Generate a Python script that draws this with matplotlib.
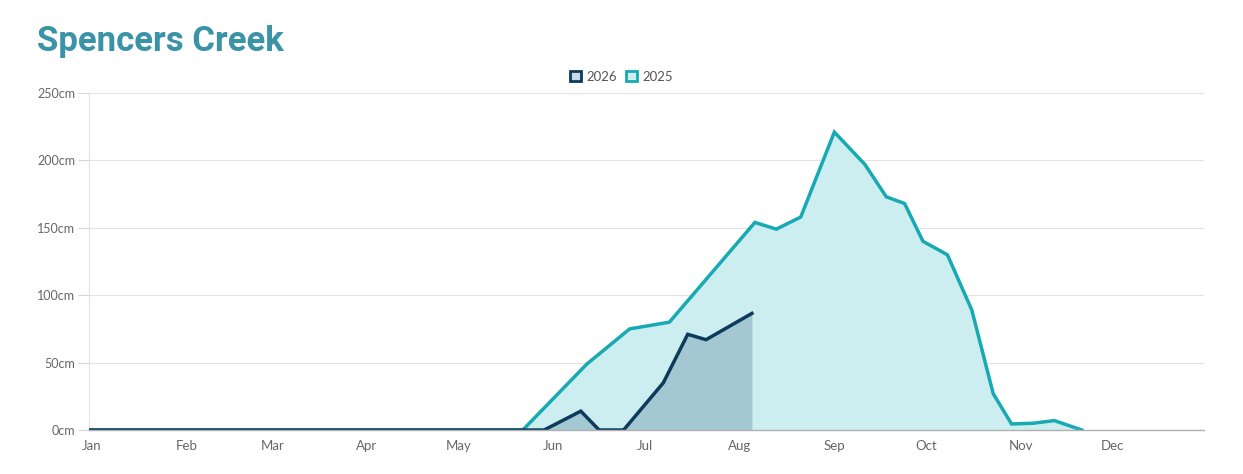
import matplotlib.pyplot as plt
from matplotlib.patches import Patch

# day of year vs snow depth (cm)
days_2025 = [0, 142, 163, 177, 190, 218, 225, 233, 244, 254, 261, 267, 273, 281, 289, 296, 302, 309, 316, 325]
depth_2025 = [0, 0, 49, 75, 80, 154, 149, 158, 221, 197, 173, 168, 140, 130, 89, 27, 4.5, 5, 7, 0]

days_2026 = [0, 149, 161, 167, 175, 188, 196, 202, 217]
depth_2026 = [0, 0, 14, 0, 0, 35, 71, 67, 86.5]

months = ['Jan', 'Feb', 'Mar', 'Apr', 'May', 'Jun', 'Jul', 'Aug', 'Sep', 'Oct', 'Nov', 'Dec']
month_starts = [0, 31, 59, 90, 120, 151, 181, 212, 243, 273, 304, 334]
yticks = [0, 50, 100, 150, 200, 250]

c25 = '#17aab2'
c25_fill = '#cdeef0'
c26 = '#0d3b5c'
c26_fill = '#a3c8d2'

plt.rcParams['font.family'] = ['Lato', 'DejaVu Sans']

fig = plt.figure(figsize=(12.43, 4.74), dpi=100)
ax = fig.add_axes([0.0716, 0.0928, 0.8970, 0.7110])

ax.fill_between(days_2025, depth_2025, color=c25_fill, lw=0, zorder=1)
ax.fill_between(days_2026, depth_2026, color=c26_fill, lw=0, zorder=2)
ax.plot(days_2025, depth_2025, color=c25, lw=2.5, zorder=3, solid_joinstyle='miter')
ax.plot(days_2026, depth_2026, color=c26, lw=2.5, zorder=4, solid_joinstyle='miter')

ax.set_xlim(0, 365)
ax.set_ylim(0, 250)
ax.set_xticks([d + 1 for d in month_starts])
ax.set_xticklabels(months)
ax.set_yticks(yticks)
ax.set_yticklabels([f'{v}cm' for v in yticks])
ax.tick_params(axis='x', length=0, pad=7, labelsize=9.5, labelcolor='#666666')
ax.tick_params(axis='y', length=8, width=0.8, color='#d5d5d5', pad=2, labelsize=9, labelcolor='#666666')
ax.grid(axis='y', color='#e3e3e3', lw=0.8)
ax.set_axisbelow(True)

for s in ['top', 'right']:
    ax.spines[s].set_visible(False)
ax.spines['left'].set_color('#e3e3e3')
ax.spines['left'].set_linewidth(0.8)
ax.spines['bottom'].set_color('#b0b0b0')
ax.spines['bottom'].set_linewidth(1)
ax.spines['bottom'].set_zorder(5)

handles = [Patch(facecolor='#c9d8e2', edgecolor=c26, lw=2, label='2026'),
           Patch(facecolor=c25_fill, edgecolor=c25, lw=2, label='2025')]
fig.legend(handles=handles, loc='center', bbox_to_anchor=(0.5, 0.838), ncol=2, frameon=False,
           fontsize=9.5, handlelength=0.85, handleheight=0.85, handletextpad=0.4, columnspacing=0.7,
           labelcolor='#555555')

fig.text(0.030, 0.912, 'Spencers Creek', fontsize=25, fontweight='bold', color='#3a93a6',
         family=['Roboto', 'DejaVu Sans'], va='center', ha='left')

fig.savefig('out.png', dpi=100)
